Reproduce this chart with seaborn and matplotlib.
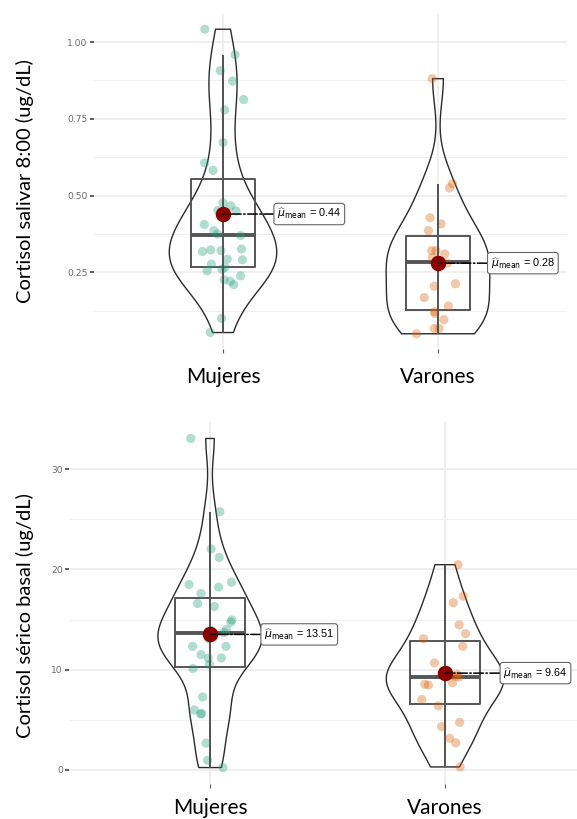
#cortisol salival y serico por sexo: violin + box + puntos, estilo ggbetweenstats

import numpy as np
import pandas as pd
import seaborn as sns
import matplotlib.pyplot as plt
from matplotlib.ticker import MultipleLocator

np.random.seed(7)

groups = ["Mujeres", "Varones"]

#cortisol salivar 8:00 (ug/dL)
saliva_mujeres = [1.042, 0.959, 0.907, 0.873, 0.813, 0.779, 0.673, 0.607, 0.582, 0.477,
                  0.467, 0.450, 0.452, 0.406, 0.386, 0.370, 0.323, 0.321, 0.326, 0.318,
                  0.293, 0.291, 0.277, 0.266, 0.239, 0.255, 0.226, 0.210, 0.221, 0.100,
                  0.054, 0.440, 0.375, 0.260]
saliva_varones = [0.881, 0.539, 0.525, 0.428, 0.408, 0.386, 0.321, 0.321, 0.310, 0.298,
                  0.289, 0.280, 0.205, 0.213, 0.168, 0.140, 0.122, 0.116, 0.096, 0.067,
                  0.067, 0.050]
saliva_means = [0.44, 0.28]
saliva_ticks = [0.25, 0.50, 0.75, 1.00]

#cortisol serico basal (ug/dL)
serico_mujeres = [33.1, 25.77, 22.06, 21.2, 18.73, 18.24, 18.5, 17.6, 16.3, 16.6,
                  14.96, 14.73, 14.0, 13.08, 12.32, 12.32, 11.5, 11.13, 11.16, 10.5,
                  10.1, 7.26, 5.61, 5.55, 5.95, 2.64, 0.92, 0.20, 13.7, 13.9, 13.8]
serico_varones = [20.48, 17.34, 16.68, 14.47, 13.58, 13.08, 12.32, 10.66, 9.74, 9.25,
                  9.31, 8.45, 8.68, 8.52, 6.37, 4.72, 4.29, 3.13, 2.67, 0.26, 9.5, 7.0]
serico_means = [13.51, 9.64]
serico_ticks = [0, 10, 20, 30]

palette = ["#1B9E77", "#D95F02"]


def nrd0(kde):
	#bandwidth like R's bw.nrd0, expressed as factor of the sd
	x = kde.dataset[0]
	sd = np.std(x, ddof=1)
	q75, q25 = np.percentile(x, [75, 25])
	lo = min(sd, (q75 - q25) / 1.34)
	return 0.9 * lo * len(x) ** -0.2 / sd


def panel(ax, vals_a, vals_b, means, ylabel, ticks, tickfmt, xright, label_pos, xpad, offsets):
	df = pd.DataFrame({"grupo": [groups[0]] * len(vals_a) + [groups[1]] * len(vals_b),
	                   "valor": vals_a + vals_b})

	sns.stripplot(data=df, x="grupo", y="valor", order=groups, hue="grupo", palette=palette,
	              jitter=0.1, size=6.6, alpha=0.35, linewidth=0, legend=False, ax=ax)
	sns.boxplot(data=df, x="grupo", y="valor", order=groups, width=0.3, fill=False,
	            color="#555555", showfliers=False, showcaps=False, linewidth=1.4,
	            medianprops={"linewidth": 2.8, "color": "#555555"}, ax=ax)
	sns.violinplot(data=df, x="grupo", y="valor", order=groups, width=0.5, density_norm="area",
	               cut=0, bw_method=nrd0, inner=None, fill=False, color="#2b2b2b",
	               linewidth=1.0, ax=ax)

	#whisker line through the box
	for i, vals in enumerate([vals_a, vals_b]):
		v = np.array(vals)
		q1, q3 = np.percentile(v, [25, 75])
		iqr = q3 - q1
		ax.vlines(i, v[v >= q1 - 1.5 * iqr].min(), v[v <= q3 + 1.5 * iqr].max(),
		          color="#555555", lw=1.4, zorder=3)

	ax.scatter(range(len(groups)), means, s=125, color="darkred", zorder=6, linewidth=0)
	for i, m in enumerate(means):
		ax.annotate(r"$\widehat{\mu}_{\mathrm{mean}}$ = " + "{:.2f}".format(m), xy=(i, m),
		            xytext=(offsets[i], 0), textcoords="offset points", va="center", ha="left",
		            fontsize=7.8, family="Liberation Sans",
		            bbox=dict(boxstyle="round,pad=0.3,rounding_size=0.25", fc="white", ec="#666666", lw=0.8),
		            arrowprops=dict(arrowstyle="-", ls="-.", color="black", lw=1.1, shrinkA=0, shrinkB=0),
		            annotation_clip=False, zorder=7)

	allv = np.array(vals_a + vals_b)
	pad = 0.05 * (allv.max() - allv.min())
	ax.set_ylim(allv.min() - pad, allv.max() + pad)
	ax.set_xlim(-0.6, xright)

	ax.set_yticks(ticks)
	ax.set_yticklabels([tickfmt.format(t) for t in ticks])
	step = ticks[1] - ticks[0]
	ax.yaxis.set_minor_locator(MultipleLocator(step / 2))
	ax.set_axisbelow(True)
	ax.grid(which="major", color="#EBEBEB", lw=1.1)
	ax.grid(which="minor", axis="y", color="#F0F0F0", lw=0.7)
	ax.tick_params(axis="y", which="minor", length=0)
	for s in ax.spines.values():
		s.set_visible(False)

	ax.tick_params(axis="y", which="major", length=3, width=1.1, color="#333333",
	               labelsize=6.6, labelcolor="#6a6a6a", pad=1.5)
	ax.tick_params(axis="x", length=3, width=0.8, color="#555555", labelsize=15, pad=xpad)
	for t in ax.get_xticklabels():
		t.set_family("Lato")
	ax.set_xlabel("")
	ax.set_ylabel(ylabel, family="Lato", fontsize=14.5)
	ax.yaxis.set_label_coords(*label_pos)


fig = plt.figure(figsize=(5.77, 8.19), dpi=100)
ax1 = fig.add_axes([94 / 577, (819 - 349) / 819, 473 / 577, 335 / 819])
ax2 = fig.add_axes([69 / 577, (819 - 784) / 819, 508 / 577, 362 / 819])

panel(ax1, saliva_mujeres, saliva_varones, saliva_means, "Cortisol salivar 8:00 (ug/dL)",
      saliva_ticks, "{:.2f}", 1.6, (-0.126, 0.5), 10, [39, 38])
panel(ax2, serico_mujeres, serico_varones, serico_means, "Cortisol sérico basal (ug/dL)",
      serico_ticks, "{:.0f}", 1.5617, (-0.069, 0.464), 7, [39, 42])

fig.savefig("out.png", dpi=100)
